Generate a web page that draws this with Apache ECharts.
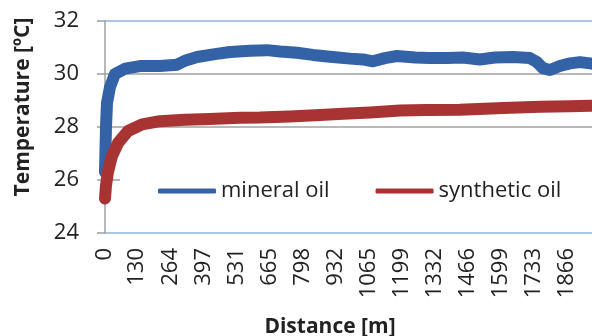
<!DOCTYPE html>
<html>
<head>
<meta charset="utf-8">
<script src="https://cdn.jsdelivr.net/npm/echarts@6/dist/echarts.min.js"></script>
<style>
  html, body { margin: 0; padding: 0; background: #ffffff; }
  #chart { width: 592px; height: 336px; }
</style>
</head>
<body>
<div id="chart"></div>
<script>
// 数据：距离 [m] 与温度 [ºC]
const xTickLabels = [0, 130, 264, 397, 531, 665, 798, 932, 1065, 1199, 1332, 1466, 1599, 1733, 1866];
const yTicks = [24, 26, 28, 30, 32];

const mineralDist = [0, 4, 8, 20, 40, 81, 141, 222, 291, 323, 372, 444, 505, 586, 655, 707, 776, 840, 909, 990, 1042, 1083, 1131, 1180, 1253, 1313, 1382, 1446, 1515, 1576, 1648, 1717, 1745, 1770, 1798, 1838, 1879, 1919, 1960, 2000];
const mineralTemp = [26.3, 28.0, 28.9, 29.5, 30.0, 30.2, 30.3, 30.3, 30.35, 30.5, 30.64, 30.75, 30.83, 30.88, 30.9, 30.85, 30.8, 30.72, 30.65, 30.58, 30.55, 30.48, 30.6, 30.68, 30.62, 30.6, 30.6, 30.62, 30.55, 30.62, 30.64, 30.6, 30.45, 30.22, 30.15, 30.3, 30.4, 30.45, 30.4, 30.35];

const syntheticDist = [0, 4, 12, 28, 53, 93, 150, 222, 323, 424, 545, 626, 747, 869, 962, 1071, 1192, 1301, 1434, 1608, 1758, 1879, 1960, 2000];
const syntheticTemp = [25.3, 25.8, 26.3, 26.9, 27.4, 27.85, 28.1, 28.22, 28.27, 28.3, 28.35, 28.36, 28.4, 28.45, 28.5, 28.55, 28.62, 28.64, 28.65, 28.72, 28.76, 28.78, 28.8, 28.8];

const seriesNames = ['mineral oil', 'synthetic oil'];

const FONT = '"Open Sans", "Noto Sans", sans-serif';
const textColor = '#222222';
const gridGray = '#a0a0a0';
const borderBlue = '#8fb3de';

const pairs = (xs, ys) => xs.map((x, i) => [x, ys[i]]);

const myChart = echarts.init(document.getElementById('chart'), null, { renderer: 'canvas' });

const option = {
  animation: false,
  backgroundColor: '#ffffff',
  grid: {
    left: 105,
    right: 0,
    top: 21,
    bottom: 103,
    containLabel: false,
    outerBoundsMode: 'none'
  },
  legend: {
    data: seriesNames,
    left: 120,
    top: 174,
    width: 450,
    padding: [6, 40, 6, 38],
    backgroundColor: '#ffffff',
    icon: 'roundRect',
    itemWidth: 58,
    itemHeight: 5,
    itemGap: 46,
    textStyle: {
      color: textColor,
      fontFamily: FONT,
      fontSize: 22
    }
  },
  // 纵轴标题（手动定位，和原图一致）
  graphic: [
    {
      type: 'text',
      x: 23,
      y: 107,
      rotation: Math.PI / 2,
      style: {
        text: 'Temperature [ºC]',
        fill: textColor,
        font: 'bold 21px "Open Sans", sans-serif',
        textAlign: 'center',
        textVerticalAlign: 'middle'
      }
    }
  ],
  xAxis: [
    {
      type: 'value',
      min: 0,
      max: 1968,
      name: 'Distance [m]',
      nameLocation: 'middle',
      nameGap: 84,
      nameTextStyle: {
        color: textColor,
        fontFamily: FONT,
        fontWeight: 'bold',
        fontSize: 21,
        padding: [0, 37, 0, 0]
      },
      axisLine: { show: true, lineStyle: { color: borderBlue, width: 1.5 } },
      axisTick: { show: false },
      splitLine: { show: false },
      axisLabel: {
        customValues: xTickLabels,
        formatter: (v) => String(v),
        rotate: 90,
        margin: 15,
        color: textColor,
        fontFamily: FONT,
        fontSize: 22
      }
    },
    {
      type: 'value',
      position: 'top',
      min: 0,
      max: 1968,
      axisLine: { show: true, lineStyle: { color: borderBlue, width: 1.5 } },
      axisTick: { show: false },
      axisLabel: { show: false },
      splitLine: { show: false }
    }
  ],
  yAxis: {
    type: 'value',
    min: 24,
    max: 32,
    interval: 2,
    axisLine: { show: true, lineStyle: { color: gridGray, width: 1.5 } },
    axisTick: { show: true, length: 8, lineStyle: { color: gridGray, width: 1.5 } },
    axisLabel: {
      margin: 26,
      color: textColor,
      fontFamily: FONT,
      fontSize: 22
    },
    splitLine: {
      show: true,
      showMinLine: false,
      showMaxLine: false,
      lineStyle: { color: gridGray, width: 1.5 }
    }
  },
  series: [
    {
      name: seriesNames[0],
      type: 'line',
      data: pairs(mineralDist, mineralTemp),
      showSymbol: false,
      color: '#3363a6',
      lineStyle: { width: 12, join: 'round', cap: 'round' }
    },
    {
      name: seriesNames[1],
      type: 'line',
      data: pairs(syntheticDist, syntheticTemp),
      showSymbol: false,
      color: '#a83333',
      lineStyle: { width: 12, join: 'round', cap: 'round' }
    }
  ]
};

myChart.setOption(option);
</script>
</body>
</html>
